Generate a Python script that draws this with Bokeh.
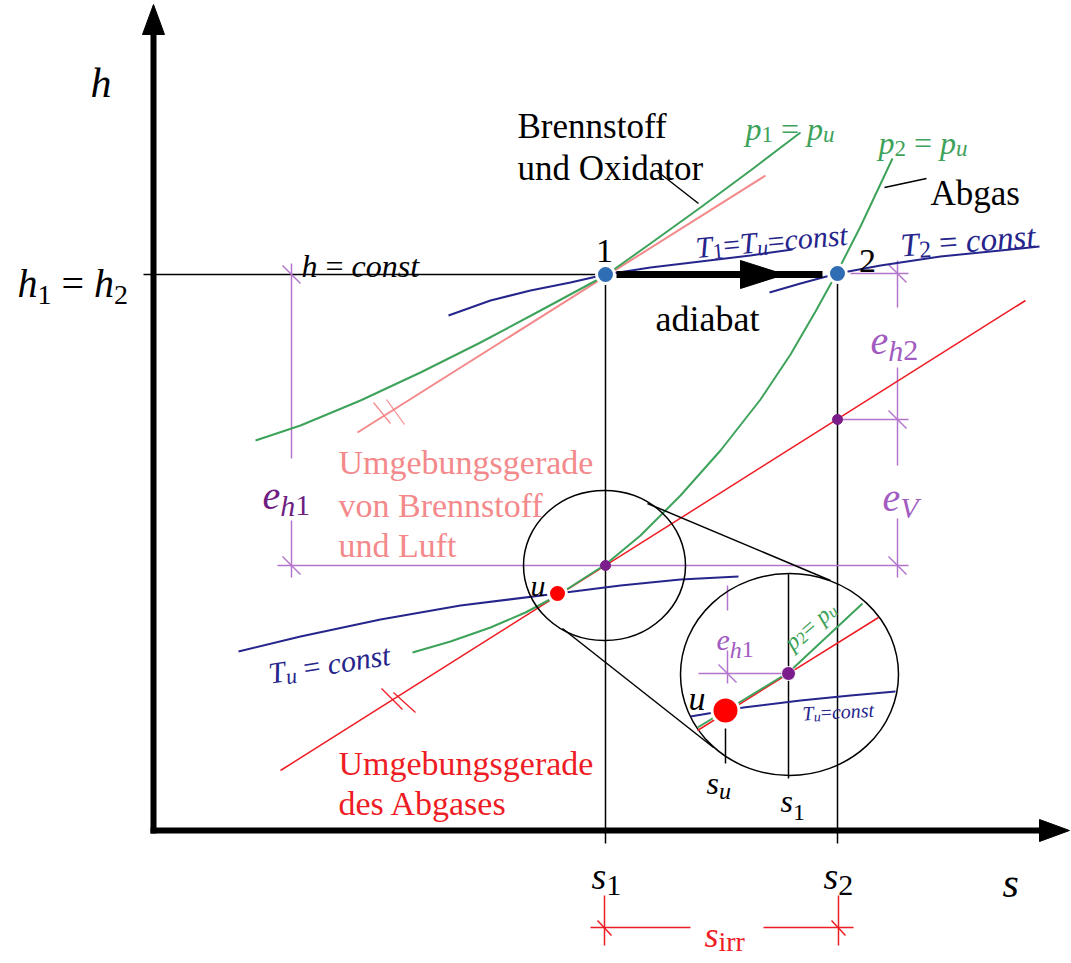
import math
from bokeh.plotting import figure
from bokeh.models import Range1d
from bokeh.core.properties import value
from bokeh.embed import file_html
from bokeh.resources import INLINE

# ---------------- data (schematic h-s diagram, picture units) ----------------
# isobar p1 = pu of fuel + oxidiser
p1_s = [255, 300, 360, 420, 480, 540, 605, 650, 700, 750, 800]
p1_h = [440, 425, 400, 372, 342, 310, 275, 243, 207, 170, 132]
# isobar p2 = pu of exhaust gas
p2_s = [412, 450, 490, 525, 557, 580, 605, 640, 680, 720, 760, 790, 815, 836, 860, 892]
p2_h = [652, 641, 627, 612, 595, 580, 564, 535, 495, 450, 399, 354, 311, 273, 226, 158]
# isotherms
Tu_s = [238, 300, 380, 460, 557, 620, 680, 738]
Tu_h = [651, 636, 619, 605, 593, 585, 579, 576]
T1_s = [448, 490, 530, 570, 605, 650, 700, 750, 792]
T1_h = [315, 300, 290, 282, 274, 267, 261, 255, 249]
T2_s = [769, 800, 837, 880, 940, 1000, 1039]
T2_h = [292, 283, 273, 265, 256, 250, 246]
# environment lines (Umgebungsgeraden)
env_fuel_s = [357, 765]
env_fuel_h = [432, 175]
env_exh_s = [280, 1025]
env_exh_h = [770, 300]
# states
state_s = [605, 837]
state_h = [274, 273]
state_lbl = ["1", "2"]
u_s, u_h = 557, 593
s1, s2 = 605, 837
h12 = 274
hV1 = 565      # h on exhaust env. line at s1
hV2 = 419      # h on exhaust env. line at s2
# magnifier inset
inset_src = (604, 565, 162, 150)
inset_big = (789, 674, 218, 202)
in_green_s = [697, 742, 788, 862]
in_green_h = [727, 700, 672, 603]
in_red_s = [697, 878]
in_red_h = [730, 617]
in_blue_s = [690, 743, 800, 850, 895]
in_blue_h = [716, 707, 700, 695, 691]
in_u = (725, 710)
in_p = (788, 673)

FONT = value("Liberation Serif")
GREEN = "#3DA25A"
SALMON = "#F4898B"
RED = "#EE1C24"
NAVY = "#26258C"
BLUE = "#2F6DB5"
PURP = "#B274CC"
PURP_T = "#A25BC0"
PURP_D = "#6E1F80"
PURP_DOT = "#7B1E8C"

p = figure(width=1071, height=963, x_range=Range1d(0, 1071), y_range=Range1d(963, 0),
           output_backend="svg", toolbar_location=None, x_axis_location=None,
           y_axis_location=None, min_border=0)
p.grid.visible = False
p.outline_line_color = None
p.background_fill_color = "white"
p.border_fill_color = "white"

# ---------------- axes ----------------
p.line([153, 153], [833, 30], line_color="black", line_width=6)
p.line([150, 1042], [830, 830], line_color="black", line_width=6)
p.patches(xs=[[153, 142, 164], [1069, 1039, 1039]], ys=[[4, 34, 34], [830, 819, 841]],
          fill_color="black", line_color="black")

# helper lines
p.line([143, s1], [h12, h12], line_color="black", line_width=1.5)
p.line([s1, s1], [h12, 843], line_color="black", line_width=1.5)
p.line([s2, s2], [state_h[1], 843], line_color="black", line_width=1.5)

# purple dimensioning
p.line([277, 908], [hV1, hV1], line_color=PURP, line_width=1.5)
p.line([850, 908], [state_h[1], state_h[1]], line_color=PURP, line_width=1.5)
p.line([842, 908], [hV2, hV2], line_color=PURP, line_width=1.5)
p.segment(x0=[291, 291, 897, 897, 897, 727, 727], y0=[263, 520, 260, 367, 518, 585, 650],
          x1=[291, 291, 897, 897, 897, 727, 727], y1=[458, 577, 307, 465, 577, 610, 683],
          line_color=PURP, line_width=1.5)
p.line([698, in_p[0]], [in_p[1], in_p[1]], line_color=PURP, line_width=1.5)
sl_x = [291, 291, 897, 897, 897, 727]
sl_y = [h12, hV1, state_h[1], hV2, hV1, in_p[1]]
p.segment(x0=[x - 9 for x in sl_x], y0=[y - 9 for y in sl_y],
          x1=[x + 9 for x in sl_x], y1=[y + 9 for y in sl_y], line_color=PURP, line_width=1.5)

# curves
p.line(env_fuel_s, env_fuel_h, line_color=SALMON, line_width=2)
p.line(env_exh_s, env_exh_h, line_color=RED, line_width=1.5)
p.line(p1_s, p1_h, line_color=GREEN, line_width=2)
p.line(p2_s, p2_h, line_color=GREEN, line_width=2)
p.line(Tu_s, Tu_h, line_color=NAVY, line_width=2)
p.line(T1_s, T1_h, line_color=NAVY, line_width=2)
p.line(T2_s, T2_h, line_color=NAVY, line_width=2)

# double slashes on the environment lines
p.segment(x0=[373, 386, 381, 393], y0=[402, 399, 688, 692], x1=[390, 404, 402, 415], y1=[423, 424, 709, 712],
          line_color=[SALMON, SALMON, RED, RED], line_width=1.2)

# leaders
p.segment(x0=[657, 884], y0=[171, 187], x1=[698, 926], y1=[203, 178], line_color="black", line_width=1.5)

# adiabatic arrow
p.line([616, 822], [274, 274], line_color="black", line_width=7)
p.patch([740, 784, 740], [260, 274, 288], fill_color="black", line_color="black")

# magnifier
cx, cy, w, h = inset_src
p.ellipse(x=[cx], y=[cy], width=[w], height=[h], fill_color=None, line_color="black", line_width=1.5)
cx2, cy2, w2, h2 = inset_big
p.ellipse(x=[cx2], y=[cy2], width=[w2], height=[h2], fill_color=None, line_color="black", line_width=1.5)
p.segment(x0=[647, 562], y0=[503, 628], x1=[830, 713], y1=[580, 747], line_color="black", line_width=1.5)
p.line([in_p[0], in_p[0]], [573, 778], line_color="black", line_width=1.5)
p.line([in_u[0], in_u[0]], [728, 763], line_color="black", line_width=1.5)
p.line(in_red_s, in_red_h, line_color=RED, line_width=1.5)
p.line(in_green_s, in_green_h, line_color=GREEN, line_width=2)
p.line(in_blue_s, in_blue_h, line_color=NAVY, line_width=2)

# s_irr dimension
p.segment(x0=[604, 838, 590, 763, 597, 831], y0=[895, 895, 927, 927, 920, 920],
          x1=[604, 838, 690, 853, 611, 845], y1=[945, 945, 927, 927, 935, 935],
          line_color=RED, line_width=1.5)

# points
p.scatter(state_s, state_h, size=18, fill_color=BLUE, line_color="white", line_width=3)
p.scatter([u_s], [u_h], size=18, fill_color="#FF0000", line_color="white", line_width=3)
p.scatter([in_u[0]], [in_u[1]], size=27, fill_color="#FF0000", line_color="white", line_width=3)
p.scatter([s1, s2], [hV1, hV2], size=10, fill_color=PURP_DOT, line_color=PURP_DOT)
p.scatter([in_p[0]], [in_p[1]], size=14, fill_color=PURP_DOT, line_color="white", line_width=1)

# ---------------- texts ----------------
W_IT = {'T': 556, 'V': 611, 'c': 444, 'e': 444, 'h': 500, 'n': 500, 'o': 500, 'p': 500,
        's': 389, 't': 278, 'u': 500, ' ': 250, '=': 675}
W_RG = {' ': 250, '=': 564, '1': 500, '2': 500, 'i': 278, 'r': 333, 'u': 500}


def wid(txt, size, italic):
    tab = W_IT if italic else W_RG
    return sum(tab.get(c, 500) for c in txt) * size / 1000.0


def rich(x0, y0, parts, color, angle_deg=0.0):
    th = math.radians(angle_deg)
    adv = 0.0
    for txt, size, italic, dy in parts:
        core = txt.strip(" ")
        lead = len(txt) - len(txt.lstrip(" "))
        trail = len(txt) - len(txt.rstrip(" "))
        adv += wid(" " * lead, size, italic)
        x = x0 + adv * math.cos(th) + dy * math.sin(th)
        y = y0 - adv * math.sin(th) + dy * math.cos(th)
        p.text([x], [y], text=[core], angle=th, text_font=FONT, text_font_size=f"{size}px",
               text_font_style="italic" if italic else "normal", text_color=color,
               text_align="left", text_baseline="alphabetic")
        adv += wid(core, size, italic) + wid(" " * trail, size, italic)


def plain(x, y, txt, size, color, italic=False, align="left"):
    p.text([x], [y], text=[txt], text_font=FONT, text_font_size=f"{size}px",
           text_font_style="italic" if italic else "normal", text_color=color,
           text_align=align, text_baseline="alphabetic")


plain(90, 82, "h", 42, "black", italic=True)
rich(17, 283, [("h", 40, True, 0), ("1", 28, False, 11), (" = ", 40, False, 0), ("h", 40, True, 0), ("2", 28, False, 11)], "black")
rich(591, 875, [("s", 38, True, 0), ("1", 30, False, 10)], "black")
rich(823, 875, [("s", 38, True, 0), ("2", 30, False, 10)], "black")
plain(1002, 882, "s", 42, "black", italic=True)
rich(704, 934, [("s", 36, True, 0), ("irr", 28, False, 7)], RED)

rich(262, 495, [("e", 40, True, 0), ("h", 30, True, 10), ("1", 30, False, 10)], PURP_D)
rich(870, 340, [("e", 40, True, 0), ("h", 30, True, 10), ("2", 30, False, 10)], PURP_T)
rich(882, 497, [("e", 40, True, 0), ("V", 30, True, 10)], PURP_T)
rich(716, 640, [("e", 30, True, 0), ("h", 24, True, 9), ("1", 24, False, 9)], PURP_T)

rich(745, 128, [("p", 32, True, 0), ("1", 23, False, 6), (" = ", 32, False, 0), ("p", 32, True, 0), ("u", 23, True, 6)], GREEN)
rich(878, 142, [("p", 32, True, 0), ("2", 23, False, 6), (" = ", 32, False, 0), ("p", 32, True, 0), ("u", 23, True, 6)], GREEN)
rich(787, 645, [("p", 24, True, 0), ("2", 17, False, 4), ("= ", 24, False, 0), ("p", 24, True, 0), ("u", 17, True, 4)], GREEN, 41)

rich(695, 247, [("T", 30, True, 0), ("1", 22, False, 6), ("=", 30, False, 0), ("T", 30, True, 0), ("u", 22, True, 6),
                ("=", 30, False, 0), ("const", 30, True, 0)], NAVY, 5)
rich(900, 245, [("T", 33, True, 0), ("2", 24, False, 6), (" = ", 33, False, 0), ("const", 33, True, 0)], NAVY, 4)
rich(268, 673, [("T", 30, True, 0), ("u", 22, True, 6), (" = ", 30, False, 0), ("const", 30, True, 0)], NAVY, 9)
rich(802, 713, [("T", 20, True, 0), ("u", 14, True, 4), ("=", 20, False, 0), ("const", 20, True, 0)], NAVY, 3)

plain(517, 126, "Brennstoff", 35, "black")
plain(517, 168, "und Oxidator", 35, "black")
plain(930, 193, "Abgas", 35, "black")
plain(604, 250, state_lbl[0], 34, "black", align="center")
plain(867, 260, state_lbl[1], 34, "black", align="center")
plain(655, 318, "adiabat", 36, "black")
rich(301, 265, [("h", 32, True, 0), (" = ", 32, False, 0), ("const", 32, True, 0)], "black")
plain(530, 585, "u", 30, "black", italic=True)
plain(688, 698, "u", 34, "black", italic=True)
rich(706, 782, [("s", 32, True, 0), ("u", 24, True, 8)], "black")
rich(780, 800, [("s", 32, True, 0), ("1", 24, False, 12)], "black")

for i, t in enumerate(["Umgebungsgerade", "von Brennstoff", "und Luft"]):
    plain(338, [462, 505, 545][i], t, 34, SALMON)
for i, t in enumerate(["Umgebungsgerade", "des Abgases"]):
    plain(338, [763, 803][i], t, 34, RED)

open("out.html", "w").write(file_html(p, INLINE))
